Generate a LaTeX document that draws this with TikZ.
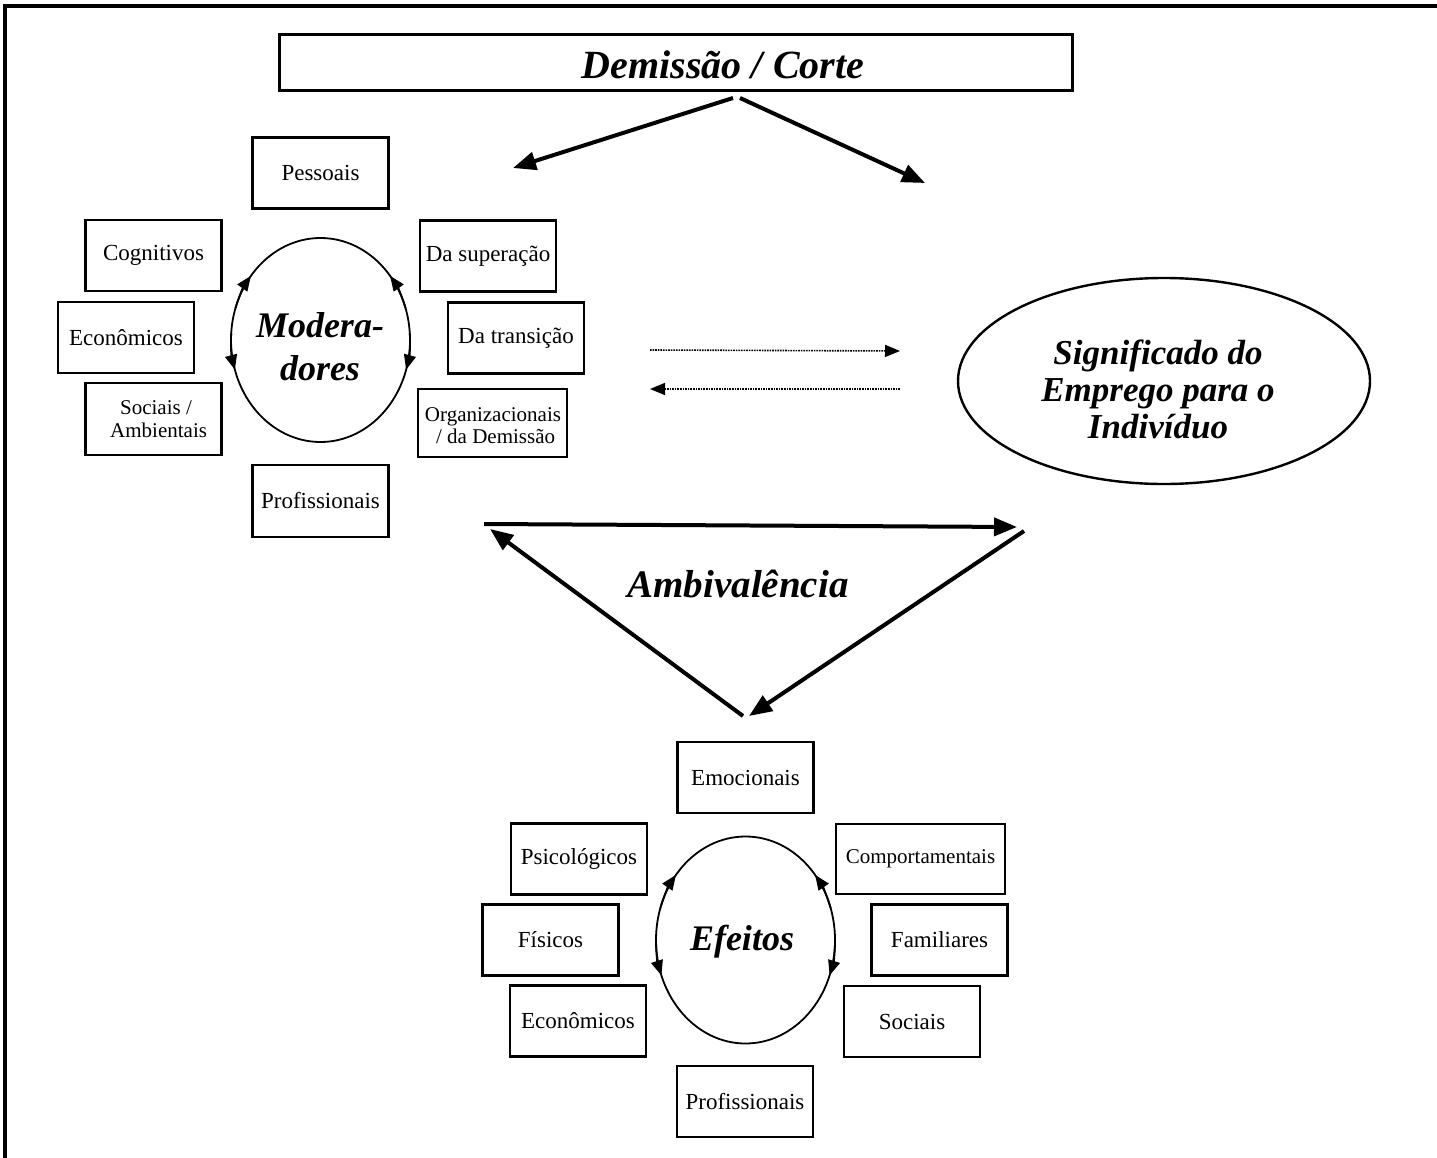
\documentclass[tikz,border=0pt]{standalone}
\usepackage{fontspec}
\setmainfont{Liberation Serif}
\usetikzlibrary{arrows.meta,shapes.geometric}

% short arrow-headed arc lying on an ellipse: cx, cy, rx, ry, from angle, to angle
\newcommand\ellhead[6]{%
  \draw[ellarrow] ({#1+#3*cos(#5)},{#2+#4*sin(#5)})
    arc[start angle=#5, end angle=#6, x radius=#3, y radius=#4];}

\begin{document}
\begin{tikzpicture}[x=1pt,y=-1pt,
  box/.style={draw, line width=2.6pt, inner sep=0pt, minimum width=136pt,
    minimum height=71pt, align=center, font=\fontsize{23}{27}\selectfont},
  ring/.style={draw, ellipse, line width=1.8pt, inner sep=0pt},
  bigtext/.style={font=\bfseries\itshape\fontsize{36}{41}\selectfont, align=center, inner sep=0pt},
  thickarrow/.style={line width=4pt, -{Triangle[length=23pt,width=18pt]}},
  dotarrow/.style={line width=1.6pt, dash pattern=on 1.6pt off 1pt, -{Triangle[length=15pt,width=12pt]}},
  ellarrow/.style={line width=1.8pt, -{Triangle[length=15pt,width=12pt]}},
]
\useasboundingbox (0,0) rectangle (1437,1158);
\fill[white] (0,0) rectangle (1437,1158);

% outer frame (top and left edges)
\coordinate (fbl) at (5,1160);
\coordinate (ftl) at (5,6);
\coordinate (ftr) at (1440,6);
\draw[line width=3.5pt] (fbl) -- (ftl) -- (ftr);

% title box
\node[draw, line width=3pt, minimum width=793pt, minimum height=56pt, inner sep=0pt] (dem) at (675.5,63) {};
\node[font=\bfseries\itshape\fontsize{40}{44}\selectfont, inner sep=0pt] (demtxt) at (723,65) {Demissão / Corte};

\coordinate (demL) at (733,98);
\coordinate (demR) at (740,98);
\coordinate (toMod) at (513,168);
\coordinate (toSig) at (925,183);
\draw[thickarrow] (demL) -- (toMod);
\draw[thickarrow] (demR) -- (toSig);

% moderators
\node[ring, minimum width=179pt, minimum height=204pt] (mod) at (320.5,340) {};
\node[bigtext, font=\bfseries\itshape\fontsize{36}{43}\selectfont] (modtxt) at (320,347) {Modera-\\dores};
\ellhead{320.5}{340}{89.5}{102}{-162}{-141}
\ellhead{320.5}{340}{89.5}{102}{-18}{-39}
\ellhead{320.5}{340}{89.5}{102}{-176}{-197}
\ellhead{320.5}{340}{89.5}{102}{-4}{17}

\node[box] (mpes) at (320.5,173) {Pessoais};
\node[box] (mcog) at (153.5,255.5) {Cognitivos};
\node[box] (msup) at (488,256) {Da superação};
\node[box] (meco) at (126,337.5) {Econômicos};
\node[box] (mtra) at (516,338) {Da transição};
\node[box, minimum height=72pt] (msoc) at (153.5,419) {};
\node[font=\fontsize{21}{23}\selectfont, align=center, inner sep=0pt] (msoctxt) at (156,419) {Sociais /\\\ Ambientais};
\node[box, minimum width=149pt, minimum height=68pt] (morg) at (492.5,423) {};
\node[font=\fontsize{21}{22}\selectfont, align=center, inner sep=0pt] (morgtxt) at (493,426) {Organizacionais\\\ / da Demissão};
\node[box, minimum height=72pt] (mpro) at (320.5,501) {Profissionais};

% meaning of employment
\node[ring, line width=2.4pt, minimum width=412pt, minimum height=206pt] (sig) at (1164,381) {};
\node[bigtext, font=\bfseries\itshape\fontsize{35}{37}\selectfont] (sigtxt) at (1158,389) {Significado do\\Emprego para o\\Indivíduo};

\coordinate (d1a) at (650,350);
\coordinate (d1b) at (900,351);
\coordinate (d2a) at (900,389);
\coordinate (d2b) at (650,389);
\draw[dotarrow] (d1a) -- (d1b);
\draw[dotarrow] (d2a) -- (d2b);

% ambivalence triangle
\coordinate (t1a) at (484,524);
\coordinate (t1b) at (1017,527);
\coordinate (t2a) at (1024,531);
\coordinate (t2b) at (749,716);
\coordinate (t3a) at (743,716);
\coordinate (t3b) at (490,529);
\draw[thickarrow] (t1a) -- (t1b);
\draw[thickarrow] (t2a) -- (t2b);
\draw[thickarrow] (t3a) -- (t3b);
\node[bigtext, font=\bfseries\itshape\fontsize{39}{44}\selectfont] (amb) at (738,584) {Ambivalência};

% effects
\node[ring, minimum width=179pt, minimum height=207pt] (efe) at (745.5,940) {};
\node[bigtext] (efetxt) at (742,942) {Efeitos};
\ellhead{745.5}{940}{89.5}{103.5}{-162}{-141}
\ellhead{745.5}{940}{89.5}{103.5}{-18}{-39}
\ellhead{745.5}{940}{89.5}{103.5}{-178}{-200}
\ellhead{745.5}{940}{89.5}{103.5}{-2}{20}

\node[box] (eemo) at (745.5,777.5) {Emocionais};
\node[box] (epsi) at (579,859) {Psicológicos};
\node[box, minimum width=169pt, minimum height=70pt, font=\fontsize{21}{23}\selectfont] (ecom) at (920.5,859) {Comportamentais};
\node[box] (efis) at (550.5,940) {Físicos};
\node[box] (efam) at (939.5,940) {Familiares};
\node[box] (eeco) at (578,1021) {Econômicos};
\node[box] (esoc) at (912,1021.5) {Sociais};
\node[box] (epro) at (745,1101.5) {Profissionais};
\end{tikzpicture}
\end{document}
